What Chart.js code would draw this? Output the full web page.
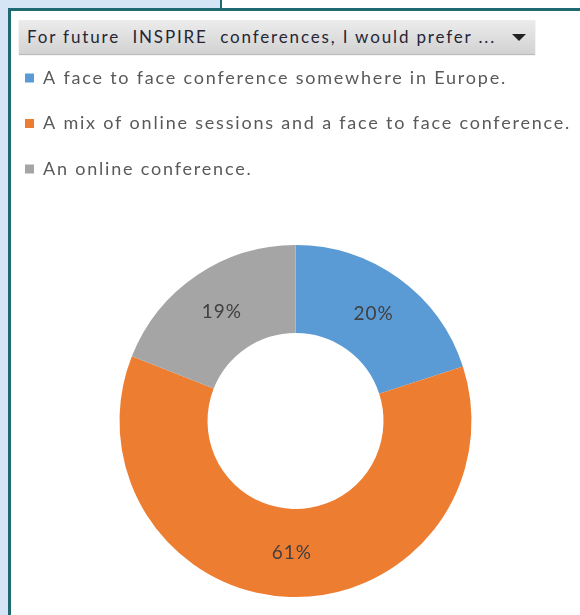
<!DOCTYPE html>
<html><head><meta charset="utf-8">
<script src="https://cdn.jsdelivr.net/npm/chart.js@4.4.1/dist/chart.umd.min.js"></script>
<style>
html,body{margin:0;padding:0;width:580px;height:615px;overflow:hidden;background:#fff;}
#bgL{position:absolute;left:0;top:0;width:8px;height:615px;background:#d5e5f5;}
#bgT{position:absolute;left:0;top:0;width:221px;height:8px;background:#d5e5f5;}
#vT{position:absolute;left:220px;top:0;width:2px;height:9px;background:#1e6a70;}
#fT{position:absolute;left:8px;top:8px;width:572px;height:3px;background:#1e6a70;}
#fL{position:absolute;left:8px;top:8px;width:3px;height:607px;background:#1e6a70;}
#title{position:absolute;left:19px;top:20px;width:516px;height:34px;
 background:linear-gradient(#ececec,#d2d2d2);box-shadow:0 1px 1px #bbb;
 font-family:Lato,"Open Sans",sans-serif;font-size:17px;letter-spacing:1.85px;color:#262636;line-height:34px;
 box-sizing:border-box;padding-left:8px;white-space:pre;}
#tri{position:absolute;left:512px;top:34px;width:0;height:0;border-left:7px solid transparent;border-right:7px solid transparent;border-top:7px solid #222;}
#wrap{position:absolute;left:-3px;top:0;width:600px;height:615px;}
</style></head>
<body>
<div id="bgL"></div><div id="bgT"></div><div id="vT"></div>
<div id="fT"></div><div id="fL"></div>
<div id="title">For future  INSPIRE  conferences, I would prefer ...</div>
<div id="tri"></div>
<div id="wrap"><canvas id="c" width="600" height="615"></canvas></div>
<script>
const categories = [
  "A face to face conference somewhere in Europe.",
  "A mix of online sessions and a face to face conference.",
  "An online conference."
];
const values = [20, 61, 19];
const valueLabels = ["20%", "61%", "19%"];
const colors = ["#5b9bd5", "#ed7d31", "#a5a5a5"];

const legendGap = {
  id: 'legendGap',
  beforeInit(chart) {
    const orig = chart.legend.fit;
    chart.legend.fit = function () {
      orig.call(this);
      this.height += 57;
    };
  },
  beforeDraw(chart) { chart.ctx.letterSpacing = '1.8px'; },
  afterDraw(chart) { chart.ctx.letterSpacing = '0px'; }
};
const arcLabels = {
  id: 'arcLabels',
  afterDatasetsDraw(chart) {
    const ctx = chart.ctx;
    const meta = chart.getDatasetMeta(0);
    ctx.save();
    ctx.letterSpacing = '1px';
    ctx.font = '19px Lato, "Open Sans", sans-serif';
    ctx.fillStyle = '#404040';
    ctx.textAlign = 'center';
    ctx.textBaseline = 'middle';
    meta.data.forEach((arc, i) => {
      const p = arc.tooltipPosition();
      ctx.fillText(valueLabels[i], p.x + 0.5, p.y);
    });
    ctx.restore();
  }
};

new Chart(document.getElementById('c'), {
  type: 'doughnut',
  data: {
    labels: categories,
    datasets: [{
      data: values,
      backgroundColor: colors,
      borderWidth: 0,
      hoverOffset: 0
    }]
  },
  options: {
    responsive: false,
    animation: false,
    cutout: '50%',
    layout: { padding: { top: 41.5, bottom: 18, left: 0.5, right: 3.5 } },
    plugins: {
      tooltip: { enabled: false },
      legend: {
        position: 'top',
        align: 'start',
        labels: {
          boxWidth: 9,
          boxHeight: 9,
          padding: 27.5,
          color: '#595959',
          font: { family: 'Lato, "Open Sans", sans-serif', size: 18 }
        }
      }
    }
  },
  plugins: [legendGap, arcLabels]
});
</script>
</body></html>
